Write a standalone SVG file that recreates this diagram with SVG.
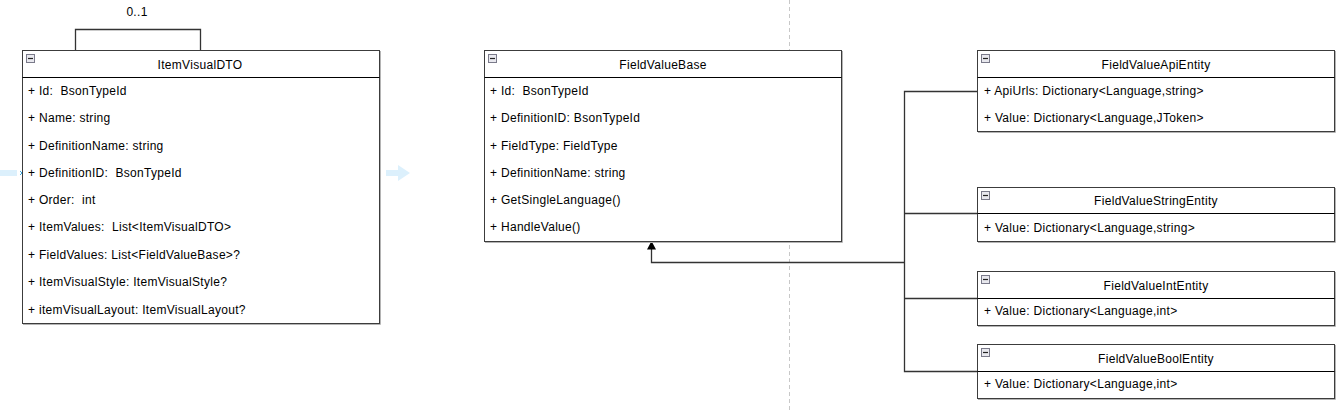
<svg xmlns="http://www.w3.org/2000/svg" width="1343" height="411" viewBox="0 0 1343 411">
<style>
text{font-family:"Liberation Sans",Arial,sans-serif;font-size:12px;fill:#000;letter-spacing:0.3px;white-space:pre}
.t{text-anchor:middle}
.box{fill:#fff;stroke:#3c3c3c;stroke-width:1}
.shadow{fill:none;stroke:#b4b4b4;stroke-width:1}
.sep{stroke:#000;stroke-width:1}
.icon{fill:#e8e8ee;stroke:#7a7a8a;stroke-width:1}
.minus{stroke:#222;stroke-width:1.2}
.conn{fill:none;stroke:#333;stroke-width:1.3}
.ghost{fill:#dcf0fc;stroke:none}
.mark{stroke:#3aa7e0;stroke-width:1}
</style>
<defs>
<g id="ic"><rect class="icon" x="0.5" y="0.5" width="8" height="8"/><line class="minus" x1="2" y1="4.5" x2="7" y2="4.5"/></g>
</defs>
<line x1="789.5" y1="0" x2="789.5" y2="411" stroke="#c8c8c8" stroke-width="1" stroke-dasharray="4,3"/>
<g id="ghost-arrows">
<rect class="ghost" x="0" y="170" width="17" height="6"/>
<path class="ghost" d="M386 170 H398 V165 L410 173 L398 181 V176 H386 Z"/>
<path class="mark" d="M20 171 L24 175 M24 171 L20 175"/>
<path class="mark" d="M377 171 L381 175 M381 171 L377 175"/>
</g>
<g id="connectors">
<path class="conn" d="M75.5 50 V29.5 H200.5 V50"/>
<text class="t" x="137" y="16">0..1</text>
<path class="conn" d="M651.5 249 V262.5 H904.5"/>
<path fill="#000" d="M651.5 241 L647 249.5 L656 249.5 Z"/>
<path class="conn" d="M977 91.5 H904.5 V371.5 H977"/>
<path class="conn" d="M904.5 213.5 H977"/>
<path class="conn" d="M904.5 298.5 H977"/>
</g>
<g id="ItemVisualDTO">
<path class="shadow" d="M380.5 51 V324.5 H23"/>
<rect class="box" x="22.5" y="50.5" width="357" height="273"/>
<line class="sep" x1="22.5" y1="77.5" x2="379.5" y2="77.5"/>
<use href="#ic" x="26" y="54"/>
<text class="t" x="200" y="69">ItemVisualDTO</text>
<text x="28" y="95">+ Id:  BsonTypeId</text>
<text x="28" y="122">+ Name: string</text>
<text x="28" y="150">+ DefinitionName: string</text>
<text x="28" y="177">+ DefinitionID:  BsonTypeId</text>
<text x="28" y="204">+ Order:  int</text>
<text x="28" y="231">+ ItemValues:  List&lt;ItemVisualDTO&gt;</text>
<text x="28" y="259">+ FieldValues: List&lt;FieldValueBase&gt;?</text>
<text x="28" y="286">+ ItemVisualStyle: ItemVisualStyle?</text>
<text x="28" y="314">+ itemVisualLayout: ItemVisualLayout?</text>
</g>
<g id="FieldValueBase">
<path class="shadow" d="M842.5 51 V242.5 H485"/>
<rect class="box" x="484.5" y="50.5" width="357" height="191"/>
<line class="sep" x1="484.5" y1="77.5" x2="841.5" y2="77.5"/>
<use href="#ic" x="488" y="54"/>
<text class="t" x="663" y="69">FieldValueBase</text>
<text x="490" y="95">+ Id:  BsonTypeId</text>
<text x="490" y="122">+ DefinitionID: BsonTypeId</text>
<text x="490" y="150">+ FieldType: FieldType</text>
<text x="490" y="177">+ DefinitionName: string</text>
<text x="490" y="204">+ GetSingleLanguage()</text>
<text x="490" y="231">+ HandleValue()</text>
</g>
<g id="FieldValueApiEntity">
<path class="shadow" d="M1335.5 51 V132.5 H978"/>
<rect class="box" x="977.5" y="50.5" width="357" height="81"/>
<line class="sep" x1="977.5" y1="77.5" x2="1334.5" y2="77.5"/>
<use href="#ic" x="981" y="54"/>
<text class="t" x="1156" y="69">FieldValueApiEntity</text>
<text x="984" y="95">+ ApiUrls: Dictionary&lt;Language,string&gt;</text>
<text x="984" y="122">+ Value: Dictionary&lt;Language,JToken&gt;</text>
</g>
<g id="FieldValueStringEntity">
<path class="shadow" d="M1335.5 188 V242.5 H978"/>
<rect class="box" x="977.5" y="187.5" width="357" height="54"/>
<line class="sep" x1="977.5" y1="213.5" x2="1334.5" y2="213.5"/>
<use href="#ic" x="981" y="191"/>
<text class="t" x="1156" y="205">FieldValueStringEntity</text>
<text x="984" y="232">+ Value: Dictionary&lt;Language,string&gt;</text>
</g>
<g id="FieldValueIntEntity">
<path class="shadow" d="M1335.5 272 V326.5 H978"/>
<rect class="box" x="977.5" y="271.5" width="357" height="54"/>
<line class="sep" x1="977.5" y1="298.5" x2="1334.5" y2="298.5"/>
<use href="#ic" x="981" y="275"/>
<text class="t" x="1156" y="290">FieldValueIntEntity</text>
<text x="984" y="315">+ Value: Dictionary&lt;Language,int&gt;</text>
</g>
<g id="FieldValueBoolEntity">
<path class="shadow" d="M1335.5 345 V399.5 H978"/>
<rect class="box" x="977.5" y="344.5" width="357" height="54"/>
<line class="sep" x1="977.5" y1="371.5" x2="1334.5" y2="371.5"/>
<use href="#ic" x="981" y="348"/>
<text class="t" x="1156" y="363">FieldValueBoolEntity</text>
<text x="984" y="388">+ Value: Dictionary&lt;Language,int&gt;</text>
</g>
</svg>
